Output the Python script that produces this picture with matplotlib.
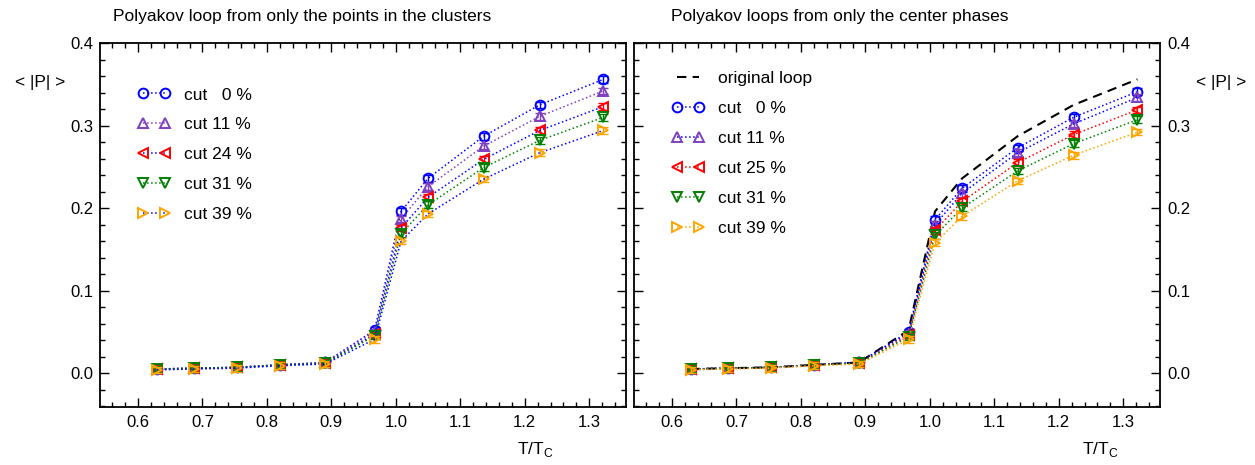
import numpy as np
import matplotlib as mpl
import matplotlib.pyplot as plt
from matplotlib.ticker import MultipleLocator, FormatStrFormatter

# temperatures T/Tc
temps = [0.629, 0.687, 0.753, 0.820, 0.890, 0.967, 1.008, 1.050, 1.136, 1.223, 1.322]

# left panel: points in the clusters
left_labels = ['cut   0 %', 'cut 11 %', 'cut 24 %', 'cut 31 %', 'cut 39 %']
left_cut0 = [0.005, 0.006, 0.007, 0.010, 0.013, 0.052, 0.196, 0.236, 0.287, 0.325, 0.356]
left_cut11 = [0.005, 0.006, 0.007, 0.010, 0.013, 0.050, 0.187, 0.226, 0.275, 0.311, 0.342]
left_cut24 = [0.005, 0.006, 0.007, 0.010, 0.012, 0.047, 0.176, 0.213, 0.259, 0.294, 0.323]
left_cut31 = [0.005, 0.006, 0.007, 0.010, 0.012, 0.045, 0.169, 0.204, 0.249, 0.282, 0.310]
left_cut39 = [0.004, 0.005, 0.006, 0.009, 0.011, 0.041, 0.160, 0.193, 0.235, 0.267, 0.294]

# right panel: center phases
original_loop = [0.005, 0.006, 0.007, 0.010, 0.013, 0.052, 0.196, 0.236, 0.287, 0.325, 0.356]
right_labels = ['cut   0 %', 'cut 11 %', 'cut 25 %', 'cut 31 %', 'cut 39 %']
right_cut0 = [0.005, 0.006, 0.007, 0.010, 0.013, 0.050, 0.186, 0.224, 0.273, 0.310, 0.341]
right_cut11 = [0.005, 0.006, 0.007, 0.010, 0.013, 0.048, 0.180, 0.218, 0.267, 0.302, 0.334]
right_cut25 = [0.005, 0.006, 0.007, 0.010, 0.012, 0.046, 0.173, 0.208, 0.255, 0.289, 0.319]
right_cut31 = [0.005, 0.006, 0.007, 0.010, 0.012, 0.044, 0.167, 0.200, 0.245, 0.278, 0.307]
right_cut39 = [0.004, 0.005, 0.006, 0.009, 0.011, 0.041, 0.158, 0.190, 0.233, 0.264, 0.292]

yerr_val = 0.004

mpl.rcParams['font.family'] = ['Liberation Sans', 'DejaVu Sans']
mpl.rcParams['font.size'] = 12

blue = '#0000ff'
purple = '#7f3fbf'
red = '#ff0000'
green = '#008000'
orange = '#ffa500'
markers = ['o', '^', '<', 'v', '>']
mcolors = [blue, purple, red, green, orange]
left_lcolors = [blue, purple, blue, green, blue]
right_lcolors = [blue, blue, red, green, orange]

fig = plt.figure(figsize=(12.55, 4.65), dpi=100)
W, H = 1255.0, 465.0
ax1 = fig.add_axes([100 / W, 58 / H, 526 / W, 364 / H])
ax2 = fig.add_axes([634 / W, 58 / H, 526 / W, 364 / H])


def style_axes(ax, right):
    ax.set_xlim(0.541, 1.357)
    ax.set_ylim(-0.041, 0.4)
    ax.xaxis.set_major_locator(MultipleLocator(0.1))
    ax.xaxis.set_minor_locator(MultipleLocator(0.02))
    ax.yaxis.set_major_locator(MultipleLocator(0.1))
    ax.yaxis.set_minor_locator(MultipleLocator(0.02))
    ax.xaxis.set_major_formatter(FormatStrFormatter('%.1f'))
    ax.yaxis.set_major_formatter(FormatStrFormatter('%.1f'))
    ax.tick_params(which='both', direction='in', top=True, right=True, width=1.0, labelsize=12)
    ax.tick_params(which='major', length=6.5)
    ax.tick_params(which='minor', length=3.5)
    ax.tick_params(axis='x', pad=6)
    if right:
        ax.tick_params(axis='y', labelleft=False, labelright=True, pad=5)
    else:
        ax.tick_params(axis='y', pad=5)
    for s in ax.spines.values():
        s.set_linewidth(1.3)


def draw_series(ax, series, labels, lcolors):
    for y, lab, m, mc, lc in zip(series, labels, markers, mcolors, lcolors):
        ax.errorbar(temps, y, yerr=yerr_val, fmt='none', ecolor=mc, elinewidth=1.0,
                    capsize=3.5, capthick=1.0)
        ax.plot(temps, y, marker=m, ms=7, mfc='none', mec=mc, mew=1.4,
                ls=':', color=lc, lw=1.1, label=lab)


style_axes(ax1, False)
draw_series(ax1, [left_cut0, left_cut11, left_cut24, left_cut31, left_cut39], left_labels, left_lcolors)
ax1.legend(loc='upper left', bbox_to_anchor=(0.072, 0.878), frameon=False, numpoints=2,
           fontsize=12.5, handlelength=1.85, handletextpad=0.8, labelspacing=0.85,
           borderpad=0, borderaxespad=0)

style_axes(ax2, True)
ax2.plot(temps, original_loop, color='black', lw=1.5, dashes=(4.5, 3), label='original loop')
draw_series(ax2, [right_cut0, right_cut11, right_cut25, right_cut31, right_cut39], right_labels, right_lcolors)
ax2.legend(loc='upper left', bbox_to_anchor=(0.072, 0.923), frameon=False, numpoints=2,
           fontsize=12.5, handlelength=1.85, handletextpad=0.8, labelspacing=0.85,
           borderpad=0, borderaxespad=0)

# titles and labels
fig.text(302 / W, 1 - 17 / H, 'Polyakov loop from only the points in the clusters',
         ha='center', va='center', fontsize=12.5)
fig.text(840 / W, 1 - 17 / H, 'Polyakov loops from only the center phases',
         ha='center', va='center', fontsize=12.5)
fig.text(40 / W, 1 - 82 / H, '< |P| >', ha='center', va='center', fontsize=12.5)
fig.text(1221 / W, 1 - 83 / H, '< |P| >', ha='center', va='center', fontsize=12.5)
fig.text(535 / W, 1 - 449 / H, r'T/T$_\mathregular{C}$', ha='center', va='center', fontsize=12.5)
fig.text(1100 / W, 1 - 449 / H, r'T/T$_\mathregular{C}$', ha='center', va='center', fontsize=12.5)

plt.savefig('out.png', dpi=100)
